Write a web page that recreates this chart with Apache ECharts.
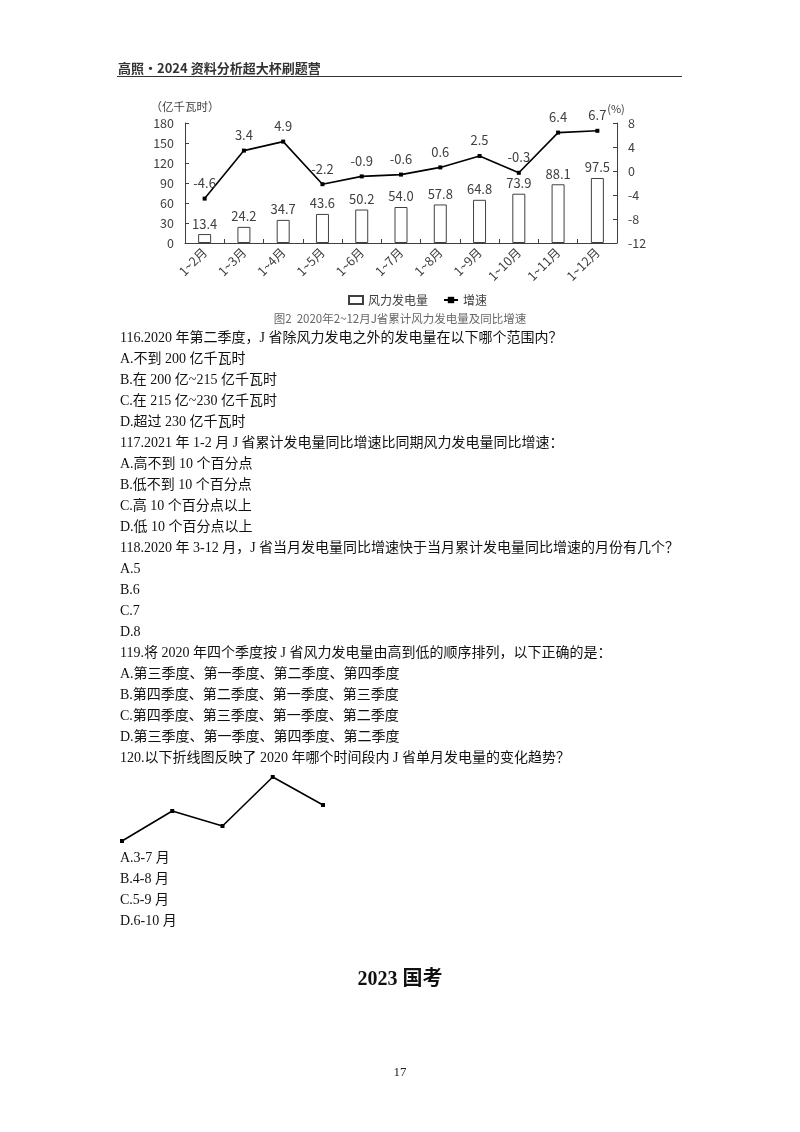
<!DOCTYPE html>
<html>

<head>
    <meta charset="UTF-8">
    <title>风力发电量</title>
    <script src="https://cdn.jsdelivr.net/npm/echarts@6/dist/echarts.min.js"></script>
    <style>
        body { margin: 0; background: #fff; }
        #page { position: relative; width: 800px; height: 1132px; overflow: hidden; }
        #main { position: absolute; left: 0; top: 0; width: 800px; height: 1132px; }
        .txt { position: absolute; left: 120px; font-family: "Liberation Serif", "Noto Sans CJK SC"; font-size: 14px; line-height: 21px; color: #111; white-space: nowrap; }
        .head { position: absolute; left: 118px; top: 58px; font-family: "Noto Sans CJK SC"; font-size: 13px; font-weight: bold; color: #333; }
        .rule { position: absolute; left: 117px; top: 76px; width: 565px; height: 0; border-top: 1.6px solid #333; }
        .sec { position: absolute; left: 0; width: 800px; top: 962px; text-align: center; font-family: "Liberation Serif", "Noto Sans CJK SC"; font-weight: bold; font-size: 20px; color: #111; }
        .pg { position: absolute; left: 0; width: 800px; top: 1064px; text-align: center; font-family: "Liberation Serif"; font-size: 13px; color: #222; }
    </style>
</head>

<body>
    <div id="page">
        <div id="main"></div>
        <div class="head">高照·2024 资料分析超大杯刷题营</div>
        <div class="rule"></div>
        <div class="txt" style="top:327px">
            116.2020 年第二季度，J 省除风力发电之外的发电量在以下哪个范围内？<br>
            A.不到 200 亿千瓦时<br>
            B.在 200 亿~215 亿千瓦时<br>
            C.在 215 亿~230 亿千瓦时<br>
            D.超过 230 亿千瓦时<br>
            117.2021 年 1-2 月 J 省累计发电量同比增速比同期风力发电量同比增速：<br>
            A.高不到 10 个百分点<br>
            B.低不到 10 个百分点<br>
            C.高 10 个百分点以上<br>
            D.低 10 个百分点以上<br>
            118.2020 年 3-12 月，J 省当月发电量同比增速快于当月累计发电量同比增速的月份有几个？<br>
            A.5<br>
            B.6<br>
            C.7<br>
            D.8<br>
            119.将 2020 年四个季度按 J 省风力发电量由高到低的顺序排列，以下正确的是：<br>
            A.第三季度、第一季度、第二季度、第四季度<br>
            B.第四季度、第二季度、第一季度、第三季度<br>
            C.第四季度、第三季度、第一季度、第二季度<br>
            D.第三季度、第一季度、第四季度、第二季度<br>
            120.以下折线图反映了 2020 年哪个时间段内 J 省单月发电量的变化趋势？
        </div>
        <div class="txt" style="top:847px">
            A.3-7 月<br>
            B.4-8 月<br>
            C.5-9 月<br>
            D.6-10 月
        </div>
        <div class="sec">2023 国考</div>
        <div class="pg">17</div>
    </div>

    <script>
        // 图2 数据
        var months = ['1~2月', '1~3月', '1~4月', '1~5月', '1~6月', '1~7月', '1~8月', '1~9月', '1~10月', '1~11月', '1~12月'];
        var windPower = [13.4, 24.2, 34.7, 43.6, 50.2, 54.0, 57.8, 64.8, 73.9, 88.1, 97.5];
        var growth = [-4.6, 3.4, 4.9, -2.2, -0.9, -0.6, 0.6, 2.5, -0.3, 6.4, 6.7];

        // 120题 小折线图（无刻度，按图中相对高度读取）
        var trendX = ['1', '2', '3', '4', '5'];
        var trendY = [0, 30, 15, 64, 36];

        var gray = '#404040';
        var font = 'Noto Sans CJK SC';

        var myChart = echarts.init(document.getElementById('main'));

        var option = {
            backgroundColor: '#fff',
            animation: false,
            textStyle: { fontFamily: font },
            title: {
                text: '图2  2020年2~12月J省累计风力发电量及同比增速',
                left: 'center',
                top: 308,
                textStyle: { fontSize: 11.5, fontWeight: 'normal', color: '#666', fontFamily: font }
            },
            legend: {
                left: 343,
                top: 289,
                itemWidth: 14,
                itemHeight: 8,
                itemGap: 15,
                textStyle: { fontSize: 12, color: gray, fontFamily: font },
                data: [
                    { name: '风力发电量', icon: 'rect' },
                    { name: '增速' }
                ]
            },
            grid: [
                { left: 185, right: 183, top: 123, bottom: 1132 - 243 },
                { left: 122, width: 201, top: 777, height: 64 }
            ],
            xAxis: [
                {
                    type: 'category',
                    gridIndex: 0,
                    data: months,
                    boundaryGap: true,
                    axisLine: { lineStyle: { color: gray, width: 1 } },
                    axisTick: { show: true, inside: true, length: 4, lineStyle: { color: gray } },
                    axisLabel: { rotate: 45, fontSize: 12.5, color: gray, margin: 7, interval: 0 }
                },
                {
                    type: 'category',
                    gridIndex: 1,
                    data: trendX,
                    boundaryGap: false,
                    show: false
                }
            ],
            yAxis: [
                {
                    type: 'value',
                    gridIndex: 0,
                    min: 0,
                    max: 180,
                    interval: 30,
                    name: '（亿千瓦时）',
                    nameGap: 11,
                    nameTextStyle: { fontSize: 11.5, color: gray, align: 'center' },
                    axisLine: { show: true, lineStyle: { color: gray } },
                    axisTick: { show: true, inside: true, length: 4, lineStyle: { color: gray } },
                    axisLabel: { fontSize: 12.5, color: gray, margin: 11 },
                    splitLine: { show: false }
                },
                {
                    type: 'value',
                    gridIndex: 0,
                    position: 'right',
                    min: -12,
                    max: 8,
                    interval: 4,
                    name: '(%)',
                    nameGap: 9,
                    nameTextStyle: { fontSize: 11, color: gray, padding: [0, 2, 0, 0] },
                    axisLine: { show: true, lineStyle: { color: gray } },
                    axisTick: { show: true, inside: true, length: 4, lineStyle: { color: gray } },
                    axisLabel: { fontSize: 12.5, color: gray, margin: 11 },
                    splitLine: { show: false }
                },
                {
                    type: 'value',
                    gridIndex: 1,
                    min: 0,
                    max: 64,
                    show: false
                }
            ],
            series: [
                {
                    name: '风力发电量',
                    type: 'bar',
                    xAxisIndex: 0,
                    yAxisIndex: 0,
                    barWidth: 13,
                    data: windPower,
                    itemStyle: { color: '#fff', borderColor: gray, borderWidth: 1 },
                    label: {
                        show: true,
                        position: 'top',
                        distance: 4,
                        fontSize: 13,
                        color: gray,
                        formatter: function (p) { return p.value.toFixed(1); }
                    }
                },
                {
                    name: '增速',
                    type: 'line',
                    xAxisIndex: 0,
                    yAxisIndex: 1,
                    data: growth,
                    symbol: 'rect',
                    symbolSize: 4,
                    lineStyle: { color: '#000', width: 1.6 },
                    itemStyle: { color: '#000' },
                    label: {
                        show: true,
                        position: 'top',
                        distance: 7,
                        fontSize: 13,
                        color: gray,
                        formatter: function (p) { return p.value.toFixed(1); }
                    }
                },
                {
                    name: 'trend',
                    type: 'line',
                    xAxisIndex: 1,
                    yAxisIndex: 2,
                    data: trendY,
                    symbol: 'rect',
                    symbolSize: 4,
                    lineStyle: { color: '#000', width: 1.6 },
                    itemStyle: { color: '#000' }
                }
            ]
        };

        myChart.setOption(option);
    </script>
</body>

</html>
